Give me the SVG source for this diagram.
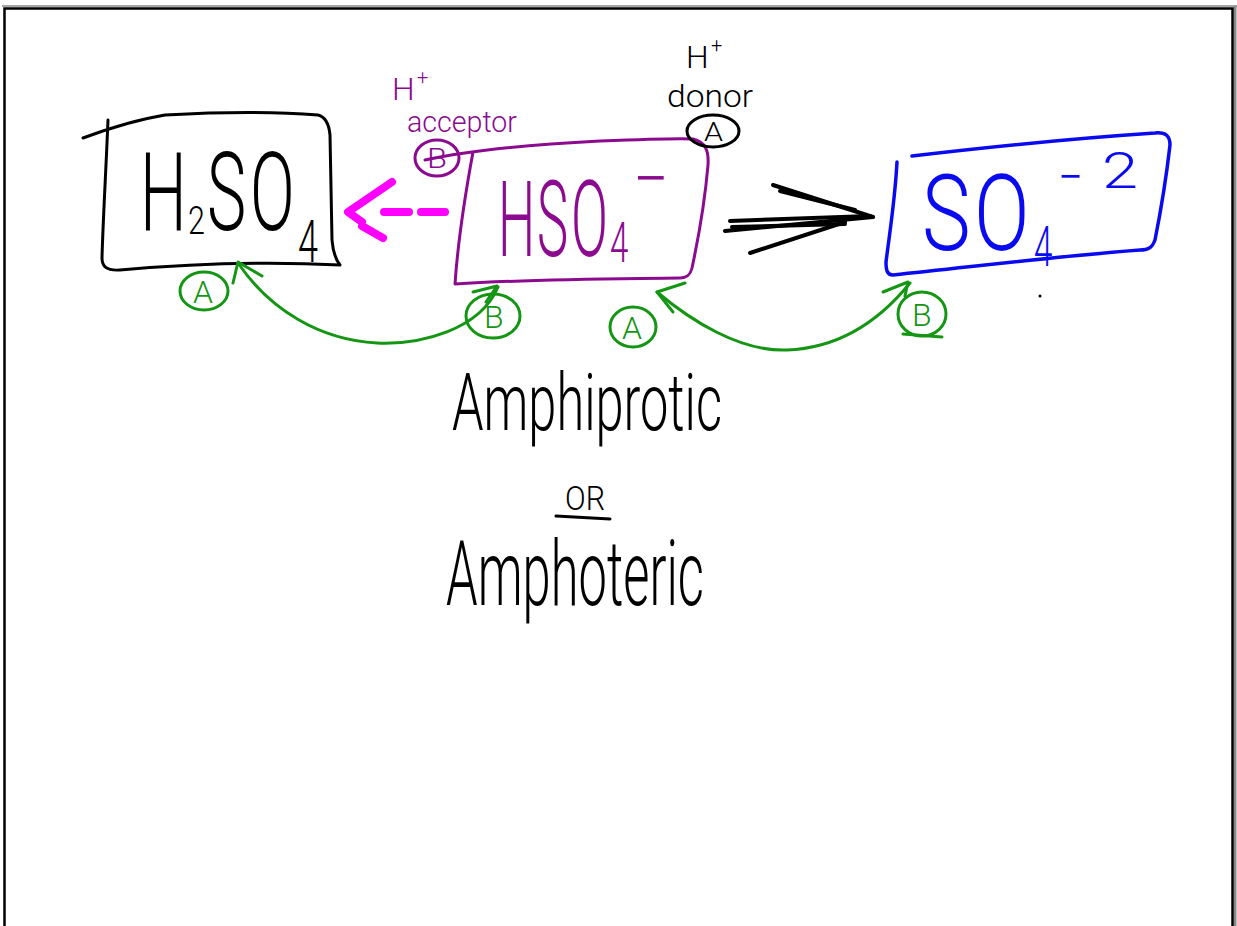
<svg xmlns="http://www.w3.org/2000/svg" width="1237" height="926" viewBox="0 0 1237 926">
<style>
.ink{fill:none;stroke-linecap:round;stroke-linejoin:round}
.hw{font-family:Roboto,"Liberation Sans","DejaVu Sans",sans-serif;font-weight:300}
.blk{stroke:#000}
.pur{stroke:#8b0a8f}
.blu{stroke:#0a0af0}
.grn{stroke:#149614}
.mag{stroke:#ff00ff}
</style>
<rect width="1237" height="926" fill="#fff"/>
<g id="frame">
<line x1="2" y1="6" x2="1237" y2="6" stroke="#888" stroke-width="1.5"/>
<line x1="1235" y1="6" x2="1235" y2="926" stroke="#888" stroke-width="3"/>
<rect x="4.5" y="8.5" width="1228" height="930" fill="none" stroke="#000" stroke-width="2.5"/>
</g>
<g id="h2so4">
<path class="ink blk" stroke-width="3" d="M83,138 C110,128 135,120 165,115 C220,112 280,112 318,115 C326,117 329,124 330,135 L332,240 C333,252 336,260 340,265 C280,262 200,263 120,270 C106,271 102,266 102,258 C103,220 106,170 108,120"/>
<g class="hw" fill="#000">
<text transform="translate(140 230) scale(0.6 1)" font-size="110">H</text>
<text transform="translate(188 234) scale(0.8 1)" font-size="38">2</text>
<text transform="translate(207 230) scale(0.6 1)" font-size="110">S</text>
<text transform="translate(250 230) scale(0.6 1)" font-size="110">O</text>
<text transform="translate(298 262) scale(0.6 1)" font-size="60">4</text>
</g>
</g>
<g id="hso4">
<path class="ink pur" stroke-width="3" d="M425,160 C470,150 540,144 600,141 C650,139 680,138 693,139 C705,142 709,150 708,165 C705,200 698,240 692,268 C690,276 686,278 680,278 C610,279 530,279 455,284 C458,240 466,190 473,152"/>
<g class="hw" fill="#8b0a8f">
<text transform="translate(498 256) scale(0.5 1)" font-size="105">H</text>
<text transform="translate(537 256) scale(0.5 1)" font-size="105">S</text>
<text transform="translate(571 256) scale(0.52 1)" font-size="105">O</text>
<text transform="translate(610 262) scale(0.6 1)" font-size="55">4</text>
<text transform="translate(633 203) scale(0.9 1)" font-size="70">−</text>
</g>
</g>
<g id="so4">
<path class="ink blu" stroke-width="3.5" d="M912,156 C980,148 1080,138 1155,133 C1166,132 1170,136 1170,145 C1166,180 1160,215 1155,240 C1152,248 1148,250 1140,250 C1060,256 980,266 893,275 C887,275 886,270 886,262 C890,230 895,200 897,162"/>
<g class="hw" fill="#0a0af0">
<text transform="translate(922 250) scale(0.78 1)" font-size="105">S</text>
<text transform="translate(974 250) scale(0.78 1)" font-size="105">O</text>
<text transform="translate(1034 266) scale(0.6 1)" font-size="55">4</text>
<text transform="translate(1058 196) scale(0.8 1)" font-size="55">−</text>
<text transform="translate(1102 188) scale(1.3 1)" font-size="50">2</text>
</g>
<circle cx="1040" cy="296" r="1.5" fill="#000"/>
</g>
<g id="acceptor-label">
<g class="hw" fill="#8b0a8f">
<text x="392" y="100" font-size="32">H</text>
<text x="417" y="84" font-size="20">+</text>
<text x="407" y="132" font-size="30" textLength="110" lengthAdjust="spacingAndGlyphs">acceptor</text>
<text x="427" y="168" font-size="28" textLength="20" lengthAdjust="spacingAndGlyphs">B</text>
</g>
<ellipse class="ink pur" stroke-width="3" cx="437" cy="158" rx="22" ry="18"/>
</g>
<g id="donor-label">
<g class="hw" fill="#000">
<text x="686" y="68" font-size="32">H</text>
<text x="711" y="52" font-size="20">+</text>
<text x="667" y="107" font-size="32" textLength="86" lengthAdjust="spacingAndGlyphs">donor</text>
<text x="704" y="141" font-size="26" textLength="19" lengthAdjust="spacingAndGlyphs">A</text>
</g>
<ellipse class="ink blk" stroke-width="3" cx="713" cy="131" rx="26" ry="16"/>
</g>
<g id="amphi-text" class="hw" fill="#000">
<text x="452" y="430" font-size="80" textLength="270" lengthAdjust="spacingAndGlyphs">Amphiprotic</text>
<text x="565" y="510" font-size="34" textLength="40" lengthAdjust="spacingAndGlyphs">OR</text>
<line x1="556" y1="516" x2="610" y2="519" stroke="#000" stroke-width="3" stroke-linecap="round"/>
<text x="446" y="605" font-size="90" textLength="258" lengthAdjust="spacingAndGlyphs">Amphoteric</text>
</g>
<g id="abc-markers">
<ellipse class="ink grn" stroke-width="3" cx="204" cy="291" rx="24" ry="19"/>
<text class="hw" x="193" y="303" font-size="32" fill="#149614">A</text>
<ellipse class="ink grn" stroke-width="3" cx="493" cy="316" rx="27" ry="22"/>
<text class="hw" x="484" y="328" font-size="32" fill="#149614">B</text>
<ellipse class="ink grn" stroke-width="3" cx="633" cy="327" rx="23" ry="20"/>
<text class="hw" x="622" y="339" font-size="32" fill="#149614">A</text>
<ellipse class="ink grn" stroke-width="3" cx="922" cy="314" rx="24" ry="22"/>
<text class="hw" x="912" y="326" font-size="32" fill="#149614">B</text>
</g>
<g id="connectors">
<g class="ink mag" stroke-width="8">
<line x1="445" y1="212" x2="421" y2="212"/>
<line x1="409" y1="212" x2="384" y2="212"/>
<polyline points="392,182 348,212 362,222"/>
<line x1="362" y1="226" x2="383" y2="238"/>
</g>
<g class="ink blk" stroke-width="4">
<line x1="725" y1="231" x2="873" y2="217"/>
<line x1="730" y1="221" x2="870" y2="216"/>
<line x1="732" y1="227" x2="845" y2="224"/>
<line x1="773" y1="185" x2="873" y2="217"/>
<line x1="780" y1="191" x2="855" y2="210"/>
<line x1="750" y1="253" x2="845" y2="222"/>
</g>
<g class="ink grn" stroke-width="3">
<path d="M498,287 C480,330 420,345 377,343 C320,340 270,310 238,263"/>
<polyline points="262,276 238,262 233,283"/>
<polyline points="473,292 497,286 486,302"/>
<path d="M657,292 C690,320 740,352 787,350 C840,348 880,320 910,283"/>
<polyline points="685,283 657,292 673,312"/>
<polyline points="883,292 908,282 905,296"/>
<line x1="903" y1="334" x2="942" y2="337"/>
</g>
</g>
</svg>
